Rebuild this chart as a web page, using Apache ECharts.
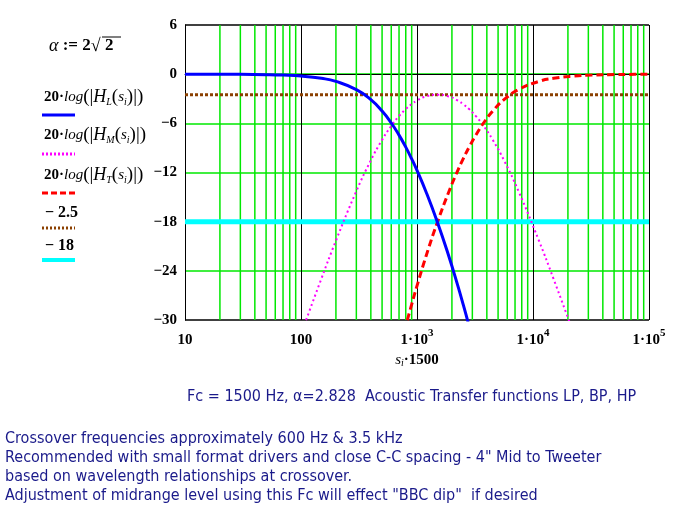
<!DOCTYPE html>
<html lang="en">
<head>
<meta charset="UTF-8">
<script src="https://cdn.jsdelivr.net/npm/echarts@6/dist/echarts.min.js"></script>
<title>crossover</title>
<style>
    html, body { margin: 0; padding: 0; background: #fff; }
    #chart { width: 674px; height: 524px; }
</style>
</head>
<body>
<div id="chart"></div>
<script>
    // sample frequencies (Hz) along the log axis
    let freqs = [10, 20, 30, 50, 70, 100, 150, 200, 300, 400, 500, 600, 700, 800, 900, 1000, 1200, 1500,
        1875, 2250, 2500, 2813, 3214, 3750, 4500, 5625, 7500, 11250, 15000, 22500, 32143, 45000, 75000, 100000];
    // dB values (null = off the plot)
    let lowPass = [-0.002, -0.009, -0.021, -0.058, -0.113, -0.229, -0.507, -0.883, -1.880, -3.117, -4.501, -5.958,
        -7.437, -8.905, -10.343, -11.741, -14.403, -18.062, -22.155, -25.829, -28.091, -30.745, -33.914,
        null, null, null, null, null, null, null, null, null, null, null];
    let bandPass = [null, null, null, null, null, -31.71, -24.944, -20.322, -14.276, -10.515, -8.023, -6.313,
        -5.114, -4.262, -3.654, -3.222, -2.716, -2.499, -2.716, -3.222, -3.654, -4.262, -5.114, -6.313,
        -8.023, -10.515, -14.276, -20.322, -24.944, -31.71, null, null, null, null];
    let highPass = [null, null, null, null, null, null, null, null, null, null, null, null,
        -33.914, -30.745, -28.091, -25.829, -22.155, -18.062, -14.403, -11.741, -10.343, -8.905, -7.437, -5.958,
        -4.501, -3.117, -1.880, -0.883, -0.507, -0.229, -0.113, -0.058, -0.021, -0.012];
    let levelMid = -2.5;
    let levelCross = -18;
    let xRange = [10, 100000];
    let yRange = [-30, 6];
    let yStep = 6;

    let green = '#00e800';
    let serif = 'Liberation Serif';
    let textBlue = '#1a1a8a';

    function pairs(vals) {
        let out = [];
        freqs.forEach(function (f, i) {
            if (vals[i] != null) out.push([f, vals[i]]);
        });
        return out;
    }

    // minor log grid lines 2..9 in each decade, as broken segments
    let minorGrid = [];
    for (let d = 10; d < xRange[1]; d *= 10) {
        for (let k = 2; k <= 9; k++) {
            minorGrid.push([k * d, yRange[0]], [k * d, yRange[1]], [k * d, '-']);
        }
    }

    let supRich = {
        n: { fontFamily: serif, fontWeight: 'bold', fontSize: 15, color: '#000', lineHeight: 20, verticalAlign: 'bottom' },
        p: { fontFamily: serif, fontWeight: 'bold', fontSize: 11, color: '#000', lineHeight: 20, verticalAlign: 'top' }
    };

    let formulaRich = {
        n: { fontFamily: serif, fontWeight: 'bold', fontSize: 15, color: '#000' },
        i: { fontFamily: serif, fontStyle: 'italic', fontSize: 15, color: '#000' },
        b: { fontFamily: serif, fontSize: 19, color: '#000' },
        h: { fontFamily: serif, fontStyle: 'italic', fontSize: 18, color: '#000' },
        s: { fontFamily: serif, fontStyle: 'italic', fontSize: 10, color: '#000', verticalAlign: 'bottom', lineHeight: 10 }
    };

    function formula(x, y, letter) {
        return {
            type: 'text', left: x, top: y,
            style: {
                text: '{n|20}{n|·}{i|log}{b|(|}{h|H}{s|' + letter + '}{b|(}{i|s}{s|i}{b|)|)}',
                rich: formulaRich
            }
        };
    }

    function sample(y, color, width, dash) {
        return {
            type: 'line',
            shape: { x1: 42, y1: y, x2: 75, y2: y },
            style: { stroke: color, lineWidth: width, lineDash: dash || null }
        };
    }

    let option = {
        backgroundColor: '#fff',
        animation: false,
        grid: { left: 185, right: 25, top: 25, bottom: 204 },
        xAxis: {
            type: 'log',
            logBase: 10,
            min: xRange[0],
            max: xRange[1],
            axisLine: { show: true, lineStyle: { color: '#000', width: 1 } },
            axisTick: { show: false },
            splitLine: { show: true, lineStyle: { color: '#000', width: 1 } },
            axisLabel: {
                margin: 8,
                formatter: function (v) {
                    if (v < 1000) return '{n|' + v + '}';
                    return '{n|1·10}{p|' + Math.round(Math.log10(v)) + '}';
                },
                rich: supRich
            },
            name: '{s|s}{i|i}{n|·1500}',
            nameLocation: 'middle',
            nameGap: 33,
            nameTextStyle: {
                rich: {
                    s: { fontFamily: serif, fontStyle: 'italic', fontSize: 15, color: '#000' },
                    i: { fontFamily: serif, fontStyle: 'italic', fontSize: 10, color: '#000', verticalAlign: 'bottom', lineHeight: 10 },
                    n: { fontFamily: serif, fontWeight: 'bold', fontSize: 15, color: '#000' }
                }
            }
        },
        yAxis: {
            type: 'value',
            min: yRange[0],
            max: yRange[1],
            interval: yStep,
            axisLine: { show: true, lineStyle: { color: '#000', width: 1 } },
            axisTick: { show: false },
            splitLine: {
                show: true,
                lineStyle: { color: ['#000', green, green, green, green, green, '#000'], width: 1.5 }
            },
            axisLabel: {
                margin: 8,
                fontFamily: serif,
                fontWeight: 'bold',
                fontSize: 15,
                color: '#000',
                formatter: function (v) {
                    return v < 0 ? '\u2212' + Math.abs(v) : String(v);
                }
            }
        },
        series: [
            {
                name: 'grid',
                type: 'line',
                data: minorGrid,
                silent: true,
                z: 1,
                showSymbol: false,
                connectNulls: false,
                lineStyle: { color: green, width: 1.5 }
            },
            {
                name: '-18',
                type: 'line',
                data: [[xRange[0], levelCross], [xRange[1], levelCross]],
                showSymbol: false,
                lineStyle: { color: '#00ffff', width: 5 }
            },
            {
                name: '-2.5',
                type: 'line',
                data: [[xRange[0], levelMid], [xRange[1], levelMid]],
                showSymbol: false,
                lineStyle: { color: '#8b4000', width: 3, type: [3, 2] }
            },
            {
                name: 'HM',
                type: 'line',
                data: pairs(bandPass),
                smooth: true,
                showSymbol: false,
                lineStyle: { color: '#ff00ff', width: 2, type: [2, 3] }
            },
            {
                name: 'HT',
                type: 'line',
                data: pairs(highPass),
                smooth: true,
                showSymbol: false,
                lineStyle: { color: '#ff0000', width: 3, type: [7, 4] }
            },
            {
                name: 'HL',
                type: 'line',
                data: pairs(lowPass),
                smooth: true,
                showSymbol: false,
                lineStyle: { color: '#0000ff', width: 3 }
            }
        ],
        graphic: [
            {
                type: 'text', left: 49, top: 37,
                style: {
                    text: '{a|α}{n| := 2}{r|√}{n| 2}',
                    rich: {
                        a: { fontFamily: serif, fontStyle: 'italic', fontSize: 18, color: '#000' },
                        n: { fontFamily: serif, fontWeight: 'bold', fontSize: 17, color: '#000' },
                        r: { fontFamily: serif, fontSize: 18, color: '#000' }
                    }
                }
            },
            { type: 'line', shape: { x1: 102, y1: 37, x2: 121, y2: 37 }, style: { stroke: '#000', lineWidth: 1 } },
            formula(44, 88, 'L'),
            sample(115, '#0000ff', 3),
            formula(44, 126, 'M'),
            sample(154, '#ff00ff', 3, [2, 2]),
            formula(44, 166, 'T'),
            sample(193, '#ff0000', 3, [6, 3]),
            {
                type: 'text', left: 45, top: 205,
                style: { text: '\u2212 2.5', fontFamily: serif, fontWeight: 'bold', fontSize: 16, fill: '#000' }
            },
            sample(228, '#8b4000', 3, [2, 2]),
            {
                type: 'text', left: 45, top: 238,
                style: { text: '\u2212 18', fontFamily: serif, fontWeight: 'bold', fontSize: 16, fill: '#000' }
            },
            sample(260, '#00ffff', 4),
            {
                type: 'text', left: 187, top: 389,
                style: {
                    text: 'Fc = 1500 Hz, α=2.828  Acoustic Transfer functions LP, BP, HP',
                    fontFamily: 'DejaVu Sans Condensed', fontSize: 16, fill: textBlue
                }
            },
            {
                type: 'text', left: 5, top: 429,
                style: {
                    text: 'Crossover frequencies approximately 600 Hz & 3.5 kHz\n' +
                        'Recommended with small format drivers and close C-C spacing - 4" Mid to Tweeter\n' +
                        'based on wavelength relationships at crossover.\n' +
                        'Adjustment of midrange level using this Fc will effect "BBC dip"  if desired',
                    fontFamily: 'DejaVu Sans Condensed', fontSize: 16, lineHeight: 19, fill: textBlue
                }
            }
        ]
    };

    let myChart = echarts.init(document.getElementById('chart'));
    myChart.setOption(option);
</script>
</body>
</html>
